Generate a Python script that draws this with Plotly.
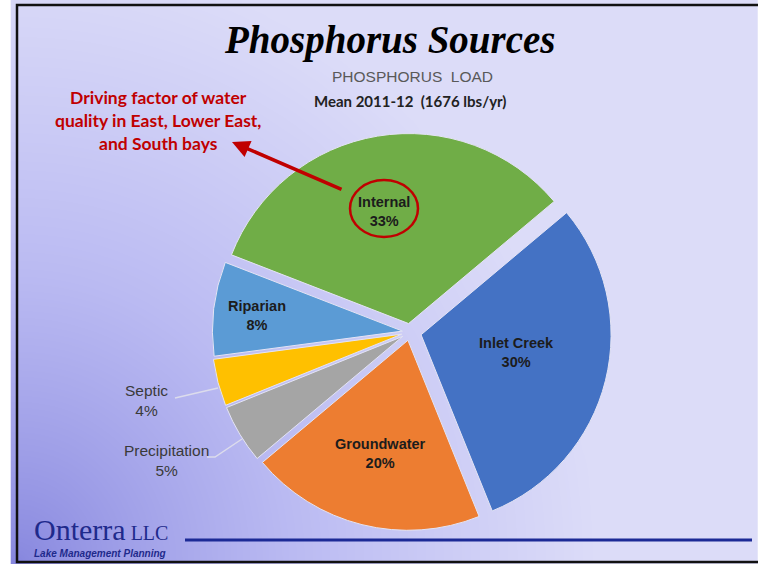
import numpy as np
import plotly.graph_objects as go

# data
sources = ["Inlet Creek", "Groundwater", "Precipitation", "Septic", "Riparian", "Internal"]
percent = [30, 20, 5, 4, 8, 33]
colors = ["#4472c4", "#ed7d31", "#a5a5a5", "#ffc000", "#5b9bd5", "#70ad47"]
pulls = [0.06, 0.045, 0.045, 0.045, 0.04, 0.045]

title = "Phosphorus Sources"
chart_title = "PHOSPHORUS&nbsp;&nbsp;LOAD"
subtitle = "Mean 2011-12&nbsp;&nbsp;(1676 lbs/yr)"
callout = "Driving factor of water<br>quality in East, Lower East,<br>and South bays"

# label placement (pixels) for each slice, and whether it sits inside
label_pos = {
    "Inlet Creek": (516, 352, True),
    "Groundwater": (380, 453, True),
    "Precipitation": (166, 460, False),
    "Septic": (146, 400, False),
    "Riparian": (257, 315, True),
    "Internal": (384, 211, True),
}

W, H = 758, 564
fig = go.Figure()

# slide background gradient (darker towards bottom-left corner)
gx = np.linspace(17, W, 60)
gy = np.linspace(5, 562, 46)
XX, YY = np.meshgrid(gx, gy)
d = np.sqrt(((XX - 17) / 580) ** 2 + ((562 - YY) / 610) ** 2)
d = np.clip(d, 0, 1) ** 0.8
fig.add_trace(
    go.Heatmap(
        x=gx, y=gy, z=d,
        colorscale=[[0, "#8686de"], [0.55, "#babaf2"], [1, "#dcdcf8"]],
        zmin=0, zmax=1, zsmooth="best",
        showscale=False, hoverinfo="skip",
    )
)

# pie centred at (410, 332), radius ~190 px
half = 190 * (1 + max(pulls))
cx, cy = 410, 332
fig.add_trace(
    go.Pie(
        labels=sources,
        values=percent,
        sort=False,
        direction="clockwise",
        rotation=50,
        pull=pulls,
        marker=dict(colors=colors, line=dict(color="#e4e4f4", width=1)),
        textinfo="none",
        showlegend=False,
        domain=dict(
            x=[(cx - half) / W, (cx + half) / W],
            y=[1 - (cy + half) / H, 1 - (cy - half) / H],
        ),
    )
)

annotations = []
for name, pct in zip(sources, percent):
    x, y, inside = label_pos[name]
    if inside:
        txt = f"<b>{name}<br>{pct}%</b>"
        font = dict(family="Liberation Sans", size=14.5, color="#1c1c1c")
    else:
        txt = f"{name}<br>{pct}%"
        font = dict(family="Liberation Sans", size=15.5, color="#3a3a3a")
    annotations.append(dict(x=x, y=y, xref="x", yref="y", text=txt,
                            showarrow=False, font=font, align="center"))

annotations += [
    dict(x=390, y=40, xref="x", yref="y", text=f"<b><i>{title}</i></b>", showarrow=False,
         font=dict(family="Liberation Serif", size=39, color="black")),
    dict(x=412, y=76, xref="x", yref="y", text=chart_title, showarrow=False,
         font=dict(family="Liberation Sans", size=15.5, color="#595959")),
    dict(x=410, y=101, xref="x", yref="y", text=f"<b>{subtitle}</b>", showarrow=False,
         font=dict(family="Lato", size=15, color="#222222")),
    dict(x=158, y=120, xref="x", yref="y", text=f"<b>{callout}</b>", showarrow=False,
         font=dict(family="Lato", size=17.5, color="#c00000"), align="center"),
    dict(x=232, y=142, xref="x", yref="y", ax=343, ay=190, axref="x", ayref="y",
         text="", showarrow=True, arrowhead=2, arrowsize=1, arrowwidth=3.5,
         arrowcolor="#c00000"),
    dict(x=32, y=529, xref="x", yref="y", xanchor="left",
         text="Onterra<span style='font-size:20px'> LLC</span>", showarrow=False,
         font=dict(family="Liberation Serif", size=30, color="#1f2a8c")),
    dict(x=32, y=553, xref="x", yref="y", xanchor="left",
         text="<b><i>Lake Management Planning</i></b>", showarrow=False,
         font=dict(family="Liberation Sans", size=10, color="#1f2a8c")),
]

shapes = [
    dict(type="circle", xref="x", yref="y", x0=350, y0=180, x1=418, y1=237,
         line=dict(color="#c00000", width=2.5)),
    dict(type="path", xref="x", yref="y", path="M 175 398 L 218 388",
         line=dict(color="#dcdcec", width=1.5)),
    dict(type="path", xref="x", yref="y", path="M 207 457 L 215 457 L 242 439",
         line=dict(color="#dcdcec", width=1.5)),
    dict(type="line", xref="x", yref="y", x0=185, y0=540, x1=752, y1=540,
         line=dict(color="#1c2a96", width=3)),
    # slide frame: top, left and bottom edges
    dict(type="path", xref="x", yref="y", path="M 770 5 L 17 5 L 17 562 L 770 562",
         line=dict(color="#111111", width=2.5), layer="above"),
]

fig.update_layout(
    width=W,
    height=H,
    margin=dict(l=0, r=0, t=0, b=0),
    paper_bgcolor="white",
    plot_bgcolor="white",
    xaxis=dict(range=[0, W], visible=False, fixedrange=True),
    yaxis=dict(range=[H, 0], visible=False, fixedrange=True),
    annotations=annotations,
    shapes=shapes,
)

# drop the default page margin so the figure fills the window exactly
fig.write_html(
    "out.html",
    config={"displayModeBar": False},
    post_script="document.body.style.margin='0';document.body.style.overflow='hidden';",
)
